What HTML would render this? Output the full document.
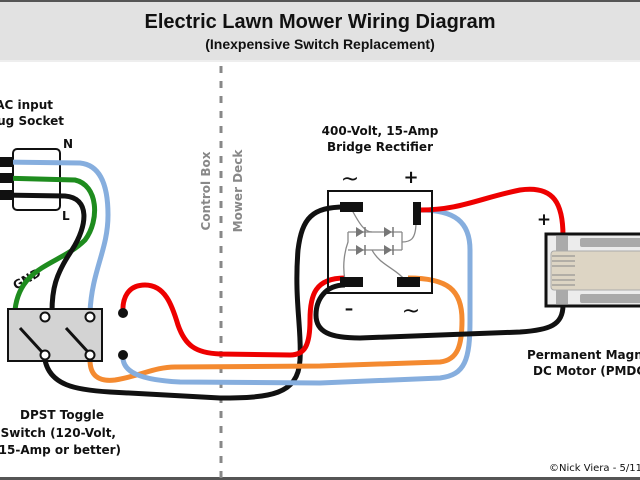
<!DOCTYPE html>
<html><head><style>
html,body{margin:0;padding:0;background:#fff;}
svg{display:block;font-family:"DejaVu Sans","Liberation Sans",sans-serif;font-weight:bold;}
</style></head><body>
<svg width="640" height="480" viewBox="0 0 640 480" xmlns="http://www.w3.org/2000/svg">
<rect x="0" y="0" width="640" height="60" fill="#e2e2e2"/>
<rect x="0" y="60" width="640" height="2" fill="#eee"/>
<rect x="0" y="0" width="640" height="2" fill="#555"/>
<rect x="0" y="477" width="640" height="3" fill="#555"/>
<text x="320" y="28" font-size="20" text-anchor="middle" fill="#111" font-family="Liberation Sans, sans-serif" font-weight="bold">Electric Lawn Mower Wiring Diagram</text>
<text x="320" y="49" font-size="14" text-anchor="middle" fill="#111" font-family="Liberation Sans, sans-serif" font-weight="bold">(Inexpensive Switch Replacement)</text>

<line x1="221" y1="66" x2="221" y2="480" stroke="#888" stroke-width="3" stroke-dasharray="7,8"/>
<text transform="translate(210,191) rotate(-90)" font-size="12" fill="#888" text-anchor="middle">Control Box</text>
<text transform="translate(242,191) rotate(-90)" font-size="12" fill="#888" text-anchor="middle">Mower Deck</text>

<text x="53" y="109" font-size="12" text-anchor="end" fill="#111">AC input</text>
<text x="64" y="125" font-size="12" text-anchor="end" fill="#111">Plug Socket</text>
<text x="63" y="148" font-size="12" fill="#111">N</text>
<text x="62" y="220" font-size="12" fill="#111">L</text>
<text transform="translate(16,290) rotate(-30)" font-size="12" fill="#111">GND</text>

<rect x="13" y="149" width="47" height="61" rx="4" fill="#fff" stroke="#111" stroke-width="2"/>
<path d="M0,162 L80,163 C100,165 108,185 108,215 C108,250 92,270 90,312" fill="none" stroke="#86aede" stroke-width="5"/>
<path d="M0,178 L75,180 C98,185 100,220 85,240 C60,265 20,265 15,310" fill="none" stroke="#1e8c1e" stroke-width="5"/>
<path d="M0,195 L65,196 C90,198 88,225 72,250 C55,275 52,290 52,312" fill="none" stroke="#111" stroke-width="5"/>
<rect x="0" y="157" width="13" height="10" fill="#111"/>
<rect x="0" y="173" width="13" height="10" fill="#111"/>
<rect x="0" y="190" width="13" height="10" fill="#111"/>

<path d="M45,360 C50,385 75,390 110,392 L220,398 C270,398 298,395 300,360 C302,330 294,300 298,250 C302,218 312,207 345,207" fill="none" stroke="#111" stroke-width="5"/>
<path d="M123,313 C122,298 128,285 145,285 C165,285 172,305 178,325 C185,345 195,353 220,354 L290,355 C305,355 310,345 310,320 C310,295 315,278 345,278" fill="none" stroke="#ee0000" stroke-width="5"/>
<path d="M90,360 C90,375 98,382 115,380 C140,376 155,367 175,367 L320,366 L440,362 C458,360 462,345 462,320 C462,290 448,278 408,278" fill="none" stroke="#f48a30" stroke-width="5"/>
<path d="M123,356 C122,372 140,380 180,382 L320,383 L440,378 C465,375 470,360 470,320 L470,250 C470,222 455,210 420,210" fill="none" stroke="#86aede" stroke-width="5"/>
<path d="M345,285 C325,285 316,300 316,315 C316,332 330,338 360,338 L520,332 C550,330 563,325 563,305" fill="none" stroke="#111" stroke-width="5"/>
<path d="M420,210 C460,210 480,198 520,190 C555,185 563,205 563,236" fill="none" stroke="#ee0000" stroke-width="5"/>

<rect x="8" y="309" width="94" height="52" fill="#d3d3d3" stroke="#111" stroke-width="2"/>
<line x1="20" y1="328" x2="42" y2="352" stroke="#111" stroke-width="3"/>
<line x1="66" y1="328" x2="88" y2="352" stroke="#111" stroke-width="3"/>
<circle cx="45" cy="317" r="4.5" fill="#fff" stroke="#111" stroke-width="2"/>
<circle cx="90" cy="317" r="4.5" fill="#fff" stroke="#111" stroke-width="2"/>
<circle cx="45" cy="355" r="4.5" fill="#fff" stroke="#111" stroke-width="2"/>
<circle cx="90" cy="355" r="4.5" fill="#fff" stroke="#111" stroke-width="2"/>
<circle cx="123" cy="313" r="5" fill="#111"/>
<circle cx="123" cy="355" r="5" fill="#111"/>

<rect x="328" y="191" width="104" height="102" fill="none" stroke="#111" stroke-width="2"/>
<g stroke="#888" stroke-width="1.3" fill="none">
<path d="M352,210 C360,225 365,232 372,232"/>
<path d="M416,222 C416,240 410,242 402,242"/>
<path d="M372,250 C380,265 395,268 405,280"/>
<path d="M348,232 L348,242 C345,250 342,265 345,280"/>
<line x1="348" y1="232" x2="402" y2="232"/>
<line x1="348" y1="250" x2="402" y2="250"/>
<line x1="402" y1="232" x2="402" y2="250"/>
</g>
<g fill="#777">
<polygon points="356,227 356,237 364,232"/><line x1="365" y1="227" x2="365" y2="237" stroke="#777" stroke-width="1.5"/>
<polygon points="384,227 384,237 392,232"/><line x1="393" y1="227" x2="393" y2="237" stroke="#777" stroke-width="1.5"/>
<polygon points="356,245 356,255 364,250"/><line x1="365" y1="245" x2="365" y2="255" stroke="#777" stroke-width="1.5"/>
<polygon points="384,245 384,255 392,250"/><line x1="393" y1="245" x2="393" y2="255" stroke="#777" stroke-width="1.5"/>
</g>
<rect x="340" y="202" width="23" height="10" fill="#111"/>
<rect x="413" y="202" width="8" height="23" fill="#111"/>
<rect x="340" y="277" width="23" height="10" fill="#111"/>
<rect x="397" y="277" width="23" height="10" fill="#111"/>
<text x="350" y="186" font-size="22" text-anchor="middle" fill="#111" font-weight="normal">~</text>
<text x="411" y="183" font-size="18" text-anchor="middle" fill="#111">+</text>
<text x="349" y="314" font-size="17" text-anchor="middle" fill="#111">–</text>
<text x="411" y="318" font-size="22" text-anchor="middle" fill="#111" font-weight="normal">~</text>
<text x="380" y="135" font-size="12" text-anchor="middle" fill="#111">400-Volt, 15-Amp</text>
<text x="380" y="151" font-size="12" text-anchor="middle" fill="#111">Bridge Rectifier</text>

<text x="544" y="225" font-size="17" text-anchor="middle" fill="#111">+</text>
<rect x="546" y="234" width="100" height="72" fill="#ececec" stroke="#111" stroke-width="3"/>
<rect x="556" y="236" width="12" height="68" fill="#aaa"/>
<rect x="580" y="238" width="62" height="9" rx="2" fill="#aaa"/>
<rect x="580" y="294" width="62" height="9" rx="2" fill="#aaa"/>
<rect x="551" y="251" width="95" height="39" rx="3" fill="#ddd5c4" stroke="#aaa" stroke-width="1"/>
<g stroke="#888" stroke-width="1">
<line x1="552" y1="256" x2="575" y2="256"/><line x1="552" y1="261" x2="575" y2="261"/><line x1="552" y1="266" x2="575" y2="266"/>
<line x1="552" y1="275" x2="575" y2="275"/><line x1="552" y1="280" x2="575" y2="280"/><line x1="552" y1="285" x2="575" y2="285"/>
</g>
<text x="527" y="359" font-size="12" fill="#111">Permanent Magnet</text>
<text x="533" y="375" font-size="12" fill="#111">DC Motor (PMDC)</text>

<text x="62" y="419" font-size="12" text-anchor="middle" fill="#111">DPST Toggle</text>
<text x="116" y="437" font-size="12" text-anchor="end" fill="#111">Switch (120-Volt,</text>
<text x="121" y="454" font-size="12" text-anchor="end" fill="#111">15-Amp or better)</text>
<text x="549" y="471" font-size="10" fill="#111" font-weight="normal">©Nick Viera - 5/11</text>
</svg>
</body></html>
